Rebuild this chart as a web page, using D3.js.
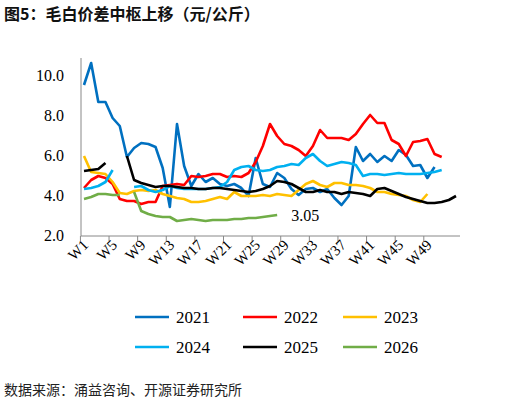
<!DOCTYPE html><html><head><meta charset="utf-8"><script src="https://cdn.jsdelivr.net/npm/d3@7"></script>
<style>body{margin:0;background:#fff}</style></head><body><svg id="c" width="508" height="405"></svg><script>
const weeks=d3.range(1,54).map(i=>"W"+i);
const tickLabels=["W1","W5","W9","W13","W17","W21","W25","W29","W33","W37","W41","W45","W49"];
const yTicks=[2,4,6,8,10];
const N=null;
const s2021=[9.55,10.65,8.7,8.7,7.9,7.5,5.95,6.4,6.65,6.6,6.45,5.4,3.45,7.6,5.5,4.5,5.1,4.7,4.9,4.6,4.5,4.6,4.4,4.0,5.9,4.6,4.45,5.15,4.9,4.35,4.05,4.35,4.4,4.2,4.35,3.9,3.55,4.0,6.45,5.75,6.1,5.7,6.0,5.75,6.3,6.05,5.5,5.55,4.9,5.45];
const s2022=[4.4,4.8,5.0,4.9,4.6,3.85,3.75,3.75,3.6,3.7,3.7,4.5,4.55,4.6,4.55,5.0,4.95,5.0,5.1,5.1,4.95,5.0,4.95,5.15,5.7,6.5,7.6,7.0,6.6,6.5,6.3,6.0,6.5,7.3,6.9,6.9,6.9,6.8,7.1,7.6,8.05,7.65,7.65,6.8,6.6,6.0,6.7,6.75,6.85,6.1,5.95];
const s2023=[6.0,5.2,5.15,5.1,4.7,4.15,4.1,4.25,4.3,4.25,4.3,4.1,4.0,3.9,3.85,3.7,3.7,3.75,3.85,3.95,3.85,4.2,4.0,4.0,4.0,4.05,4.0,4.1,4.05,4.0,4.3,4.6,4.75,4.55,4.45,4.65,4.65,4.55,4.55,4.5,4.4,4.2,4.2,4.1,4.05,4.0,3.8,3.7,4.1];
const s2024=[4.35,4.4,4.5,4.7,5.3,N,N,4.45,4.5,4.3,4.2,4.3,4.5,4.4,4.35,4.35,4.35,4.35,4.4,4.45,4.7,5.3,5.45,5.5,5.3,5.25,5.3,5.45,5.5,5.6,5.55,5.9,6.1,5.75,5.5,5.6,5.7,5.65,5.55,5.0,5.1,5.1,5.05,5.1,5.15,5.1,5.1,5.1,5.15,5.2,5.3];
const s2025=[5.25,5.3,5.35,5.65,N,N,6.0,4.8,4.65,4.55,4.45,4.5,4.5,4.45,4.4,4.4,4.35,4.35,4.4,4.4,4.35,4.3,4.25,4.2,4.25,4.35,4.5,4.75,4.7,4.6,4.4,4.2,4.2,4.3,4.2,4.2,4.1,4.2,4.15,4.1,4.0,4.35,4.4,4.25,4.1,3.95,3.85,3.75,3.65,3.65,3.7,3.8,4.0];
const s2026=[3.85,3.95,4.1,4.1,4.05,4.05,N,4.2,3.25,3.1,3.0,2.95,2.95,2.75,2.8,2.85,2.8,2.75,2.8,2.8,2.8,2.85,2.85,2.9,2.9,2.95,3.0,3.05];
const series=[["2021",s2021,"#0070C0"],["2022",s2022,"#FF0000"],["2023",s2023,"#FFC000"],["2024",s2024,"#00B0F0"],["2025",s2025,"#000000"],["2026",s2026,"#70AD47"]];
const svg=d3.select("#c");
const F="Liberation Serif";
svg.append("text").attr("x",4).attr("y",20).attr("font-family","Noto Sans CJK SC").attr("font-weight","bold").attr("font-size",16).attr("fill","#111").text("图5：毛白价差中枢上移（元/公斤）");
const x=d3.scalePoint().domain(weeks).range([84,456]);
const y=d3.scaleLinear().domain([2,10.9]).range([236,58]);
const step=x.step();
svg.append("line").attr("x1",81).attr("x2",81).attr("y1",58).attr("y2",236).attr("stroke","#888");
yTicks.forEach(t=>{svg.append("text").attr("x",64).attr("y",y(t)+5).attr("text-anchor","end").attr("font-family",F).attr("font-size",16).text(t.toFixed(1));});
svg.append("line").attr("x1",81).attr("x2",460).attr("y1",236).attr("y2",236).attr("stroke","#888");
tickLabels.forEach(w=>{const px=x(w)-step/2;
 svg.append("line").attr("x1",px).attr("x2",px).attr("y1",236).attr("y2",241).attr("stroke","#888");
 svg.append("text").attr("transform",`translate(${px+9},${246}) rotate(-45)`).attr("text-anchor","end").attr("font-family",F).attr("font-size",15).text(w);});
const line=d3.line().defined(d=>d[1]!=null).x(d=>x(d[0])).y(d=>y(d[1]));
series.forEach(([n,v,c])=>{svg.append("path").attr("d",line(v.map((d,i)=>[weeks[i],d]))).attr("fill","none").attr("stroke",c).attr("stroke-width",2.6).attr("stroke-linejoin","round");});
svg.append("text").attr("x",x("W28")+14).attr("y",y(3.05)+6).attr("font-family",F).attr("font-size",16).text("3.05");
series.forEach(([n,v,c],i)=>{const cx=[135,243,343][i%3],cy=[317,347][Math.floor(i/3)];
 svg.append("line").attr("x1",cx).attr("x2",cx+34).attr("y1",cy).attr("y2",cy).attr("stroke",c).attr("stroke-width",2.6);
 svg.append("text").attr("x",cx+41).attr("y",cy+6).attr("font-family",F).attr("font-size",17).text(n);});
svg.append("text").attr("x",4).attr("y",395).attr("font-family","Noto Sans CJK SC").attr("font-size",14).attr("fill","#222").text("数据来源：涌益咨询、开源证券研究所");
</script></body></html>
